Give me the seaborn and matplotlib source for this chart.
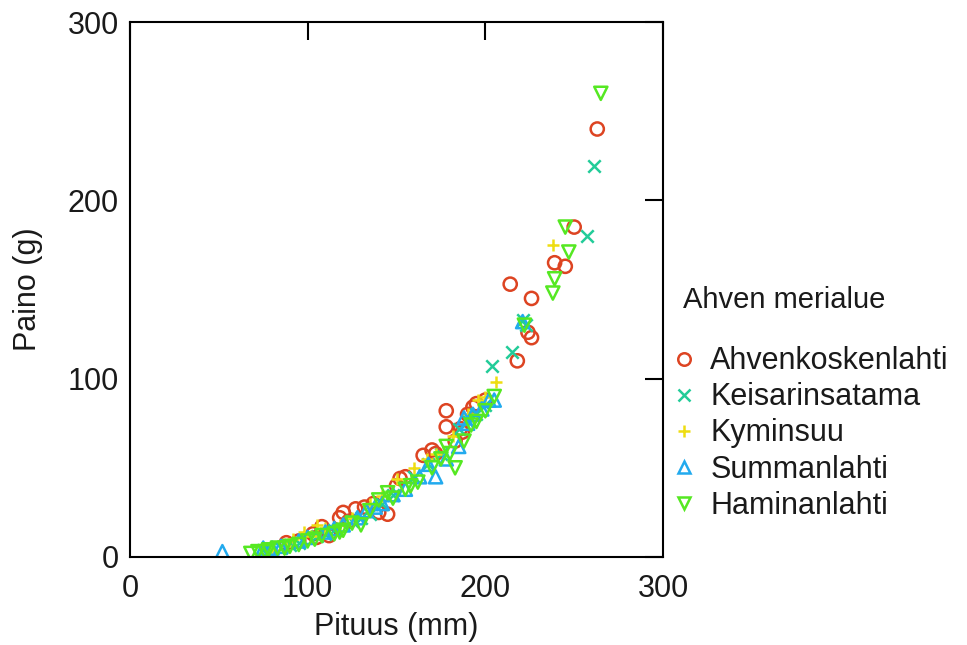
import matplotlib
matplotlib.use("Agg")
import matplotlib.pyplot as plt
import seaborn as sns
import pandas as pd

# --- data ---
ahvenkoskenlahti_len = [88, 95, 103, 108, 112, 118, 120, 127, 132, 140, 145, 150, 155, 165, 170, 178, 178, 183, 187, 190, 195, 200, 214, 218, 224, 226, 226, 239, 245, 250, 263,
                        105, 123, 137, 152, 172, 186, 193]
ahvenkoskenlahti_w = [8, 9, 13, 17, 12, 22, 25, 27, 28, 25, 24, 40, 45, 57, 60, 73, 82, 65, 70, 80, 86, 88, 153, 110, 126, 123, 145, 165, 163, 185, 240,
                      11, 20, 30, 44, 58, 72, 84]

keisarinsatama_len = [75, 85, 95, 105, 115, 125, 135, 148, 160, 175, 185, 195, 200, 204, 215, 221, 223, 257, 261,
                      90, 110, 130, 142, 168, 190]
keisarinsatama_w = [4, 5, 8, 12, 15, 20, 24, 35, 45, 58, 72, 80, 85, 107, 115, 133, 130, 180, 219,
                    7, 13, 22, 30, 52, 76]

kyminsuu_len = [80, 92, 98, 105, 110, 118, 125, 135, 150, 160, 172, 182, 190, 200, 206, 238,
                88, 102, 142, 167, 196]
kyminsuu_w = [4, 10, 14, 18, 16, 18, 22, 30, 44, 50, 58, 68, 80, 90, 98, 175,
              6, 12, 34, 55, 88]

summanlahti_len = [52, 75, 85, 100, 110, 120, 128, 138, 142, 155, 163, 172, 178, 185, 190, 193, 198, 202, 205, 221,
                   80, 95, 115, 133, 148, 168, 188]
summanlahti_w = [3, 5, 6, 11, 14, 18, 22, 28, 30, 38, 45, 45, 55, 62, 75, 80, 83, 88, 88, 132,
                 5, 9, 16, 26, 35, 52, 78]

haminanlahti_len = [68, 72, 78, 83, 90, 95, 100, 108, 115, 120, 125, 130, 135, 140, 148, 155, 162, 170, 175, 180, 183, 188, 195, 200, 205, 222, 238, 239, 245, 247, 265,
                    76, 87, 104, 118, 145, 158, 178, 192]
haminanlahti_w = [2, 3, 4, 5, 6, 7, 9, 12, 13, 15, 19, 18, 26, 32, 33, 38, 42, 50, 55, 58, 50, 65, 76, 82, 90, 130, 148, 156, 185, 171, 260,
                  3, 5, 10, 14, 36, 40, 62, 74]

regions = ["Ahvenkoskenlahti", "Keisarinsatama", "Kyminsuu", "Summanlahti", "Haminanlahti"]
x_ticks = [0, 100, 200, 300]
y_ticks = [0, 100, 200, 300]

series = {
    "Ahvenkoskenlahti": (ahvenkoskenlahti_len, ahvenkoskenlahti_w),
    "Keisarinsatama": (keisarinsatama_len, keisarinsatama_w),
    "Kyminsuu": (kyminsuu_len, kyminsuu_w),
    "Summanlahti": (summanlahti_len, summanlahti_w),
    "Haminanlahti": (haminanlahti_len, haminanlahti_w),
}
colors = {
    "Ahvenkoskenlahti": "#dd4422",
    "Keisarinsatama": "#22cc99",
    "Kyminsuu": "#eedd11",
    "Summanlahti": "#22aaee",
    "Haminanlahti": "#55e822",
}
markers = {
    "Ahvenkoskenlahti": "o",
    "Keisarinsatama": "x",
    "Kyminsuu": "+",
    "Summanlahti": "^",
    "Haminanlahti": "v",
}

sns.set_theme(style="white")
plt.rcParams["font.family"] = ["Liberation Sans", "DejaVu Sans"]
plt.rcParams["text.color"] = "#1a1a1a"
plt.rcParams["axes.labelcolor"] = "#1a1a1a"

fig = plt.figure(figsize=(9.67, 6.45), dpi=100)
ax = fig.add_axes([130 / 967, 1 - 557 / 645, 533 / 967, 535 / 645])

handles = []
for name in regions:
    xs, ys = series[name]
    df = pd.DataFrame({"Pituus": xs, "Paino": ys})
    c = colors[name]
    m = markers[name]
    if m in ("x", "+"):
        sns.scatterplot(data=df, x="Pituus", y="Paino", ax=ax, marker=m,
                        s=80, color=c, linewidth=1.8)
        handles.append(plt.Line2D([], [], linestyle="none", marker=m,
                                  color=c, markeredgewidth=1.8, markersize=9,
                                  label=name))
    else:
        sns.scatterplot(data=df, x="Pituus", y="Paino", ax=ax, marker=m,
                        s=90, facecolors="none", edgecolor=c, linewidth=1.8)
        handles.append(plt.Line2D([], [], linestyle="none", marker=m,
                                  markerfacecolor="none", markeredgecolor=c,
                                  markeredgewidth=1.8, markersize=9, label=name))

ax.set_xlim(0, 300)
ax.set_ylim(0, 300)
ax.set_xticks(x_ticks)
ax.set_yticks(y_ticks)
ax.tick_params(direction="in", length=13, width=1.5, top=True, right=True,
               labelsize=22, colors="black", labelcolor="#1a1a1a")
ax.tick_params(axis="x", pad=12)
ax.tick_params(axis="y", pad=8)
for sp in ax.spines.values():
    sp.set_color("black")
    sp.set_linewidth(1.5)
ax.set_xlabel("Pituus (mm)", fontsize=22, labelpad=6)
ax.set_ylabel("Paino (g)", fontsize=22, labelpad=18)

fig.text(683 / 967, 1 - 300 / 645, "Ahven merialue", fontsize=21,
         ha="left", va="center")
leg = fig.legend(handles=handles, loc="upper left",
                 bbox_to_anchor=(660 / 967, 1 - 334 / 645), frameon=False,
                 fontsize=22, handlelength=0.8, borderaxespad=0,
                 handletextpad=0.45, labelspacing=0.2)

fig.savefig("out.png", dpi=100)
